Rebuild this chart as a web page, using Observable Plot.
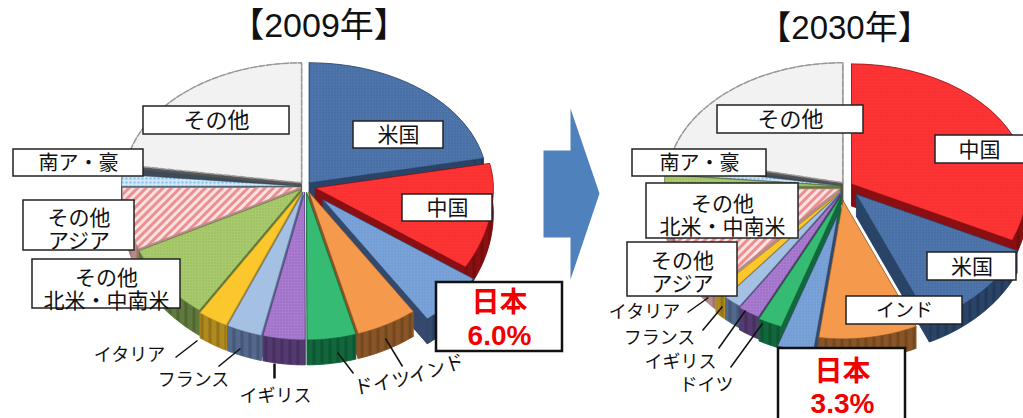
<!DOCTYPE html>
<html><head><meta charset="utf-8">
<script src="https://cdn.jsdelivr.net/npm/d3@7"></script>
<script src="https://cdn.jsdelivr.net/npm/@observablehq/plot@0.6"></script>
<style>html,body{margin:0;padding:0;background:#fff;overflow:hidden}svg{display:block}
g[aria-label="line"]{filter:blur(0.35px)}</style>
</head><body><div id="chart"></div>
<script>
// ---- data (clockwise from 12 o'clock, % share)
const names2009 = ["米国","中国","日本","インド","ドイツ","イギリス","フランス","イタリア","その他北米・中南米","その他アジア","南ア・豪","その他"];
const shares2009 = [21.7,12.3,6.0,5.5,4.4,3.8,3.2,2.7,8.5,6.8,2.4,22.6];
const names2030 = ["中国","米国","インド","日本","ドイツ","イギリス","フランス","イタリア","その他アジア","その他北米・中南米","南ア・豪","その他"];
const shares2030 = [31.7,11.5,9.0,3.3,2.2,2.0,1.6,1.1,12.6,1.5,2.0,21.5];

// ---- styling by category
const categories = names2009;
const sideColor = {"米国":"#2a4468","中国":"#8a0f12","日本":"#34496b","インド":"#8a5526","ドイツ":"#12683c","イギリス":"#543a70","フランス":"#54698e","イタリア":"#b08a1e","その他北米・中南米":"#5f7a3c","その他アジア":"#b98a8a","南ア・豪":"#3c4a5a","その他":"#555"};
const topFill = {"米国":"url(#pUS)","中国":"url(#pCN)","日本":"url(#pJP)","インド":"#f59a4c","ドイツ":"#35bb72","イギリス":"url(#pUK)","フランス":"#a4c0e2","イタリア":"#fcc72c","その他北米・中南米":"url(#pNA)","その他アジア":"url(#pAS)","南ア・豪":"url(#pSA)","その他":"#f2f2f2"};

// ---- pie layouts
const pie2009 = {cx:305, cy:186, rx:178, ryTop:120, ryBot:147, depth:25, inset:3, names:names2009, shares:shares2009, shift:{},
  explode:{"米国":6,"中国":10,"日本":24,"インド":8,"ドイツ":8,"イギリス":8,"フランス":8,"イタリア":8,"その他北米・中南米":6,"その他アジア":5,"南ア・豪":6,"その他":6}};
const pie2030 = {cx:846, cy:186, rx:176, ryTop:120, ryBot:138, depth:22, inset:3, names:names2030, shares:shares2030, shift:{"インド":-6},
  explode:{"中国":6,"米国":14,"インド":18,"日本":38,"ドイツ":14,"イギリス":12,"フランス":10,"イタリア":10,"その他アジア":8,"その他北米・中南米":6,"南ア・豪":6,"その他":6}};

function pieMarks(p){
  const arcs = d3.pie().sort(null).value(d=>d.v)(p.names.map((n,i)=>({n,v:p.shares[i]})));
  const sides = [], tops = [];
  const items = arcs.map(a=>{
    const mid=(a.startAngle+a.endAngle)/2, e=p.explode[a.data.n];
    const ox=Math.sin(mid)*e+(p.shift[a.data.n]||0), oy=-Math.cos(mid)*e*0.8;
    const P=(t,dz=0)=>{const c=Math.cos(t);return {x:p.cx+ox+Math.sin(t)*p.rx, y:p.cy+oy-c*(c>0?p.ryTop:p.ryBot)+dz}};
    const C=(dz=0)=>({x:p.cx+ox,y:p.cy+oy+dz});
    const steps=d3.range(0,25).map(i=>i/24);
    const ts=steps.map(f=>a.startAngle+(a.endAngle-a.startAngle)*f);
    const arcTop=ts.map(t=>P(t)), arcBot=ts.map(t=>P(t,p.depth));
    // 南ア・豪: the wall under その他 shows as a dark band above its top face
    const topEnd=a.data.n==="南ア・豪"?a.endAngle-p.inset*Math.PI/180:a.endAngle;
    const faceArc=steps.map(f=>P(a.startAngle+(topEnd-a.startAngle)*f));
    return {n:a.data.n,mid,
      top:[C(),...faceArc,C()],
      bot:[C(p.depth),...arcBot,C(p.depth)],
      band:[...arcTop,...arcBot.slice().reverse(),arcTop[0]],
      w1:[C(),arcTop[0],arcBot[0],C(p.depth),C()],
      w2:[C(),arcTop[24],arcBot[24],C(p.depth),C()]};
  });
  const back2front=items.slice().sort((a,b)=>Math.cos(b.mid)-Math.cos(a.mid));
  back2front.forEach(s=>{
    const c=sideColor[s.n];
    [s.bot,s.w1,s.w2].forEach(poly=>sides.push(Plot.line(poly,{x:"x",y:"y",fill:c,stroke:c,strokeWidth:0.5})));
    sides.push(Plot.line(s.band,{x:"x",y:"y",fill:`url(#side${categories.indexOf(s.n)})`,stroke:c,strokeWidth:0.5}));
    if(s.n!=="その他") tops.push(Plot.line(s.top,{x:"x",y:"y",fill:topFill[s.n],stroke:c,strokeWidth:0.7,strokeOpacity:0.7}));
    else tops.unshift(Plot.line(s.top,{x:"x",y:"y",fill:topFill[s.n],stroke:"#999",strokeWidth:1.5,strokeDasharray:"6 2"}));
  });
  return [...sides,...tops];
}

// ---- annotation layout (page pixels)
const titles=[{t:"【2009年】",x:318.5,y:26,s:34},{t:"【2030年】",x:844,y:28,s:33}];
const arrowShape=[[543,150],[570,150],[570,108],[599,193],[570,279],[570,237],[543,237],[543,150]].map(([x,y])=>({x,y}));
const boxes=[
 {x1:143,x2:289,y1:106,y2:134,t:"その他",s:22,dy:0},
 {x1:13,x2:143,y1:149,y2:176,t:"南ア・豪",s:20,dy:0},
 {x1:353,x2:443,y1:121,y2:148,t:"米国",s:21,dy:0},
 {x1:402,x2:492,y1:194,y2:221,t:"中国",s:21,dy:0},
 {x1:23,x2:134,y1:200,y2:250,t:"その他\nアジア",s:21,dy:4},
 {x1:32,x2:180,y1:259,y2:308,t:"その他\n北米・中南米",s:21,dy:5},
 {x1:717,x2:863,y1:105,y2:133,t:"その他",s:22,dy:0},
 {x1:632,x2:766,y1:149,y2:176,t:"南ア・豪",s:20,dy:0},
 {x1:646,x2:798,y1:183,y2:238,t:"その他\n北米・中南米",s:21,dy:4},
 {x1:935,x2:1027,y1:135,y2:163,t:"中国",s:21,dy:0,tx:979},
 {x1:927,x2:1016,y1:252,y2:280,t:"米国",s:21,dy:0},
 {x1:846,x2:962,y1:296,y2:324,t:"インド",s:19,dy:0},
 {x1:627,x2:737,y1:242,y2:296,t:"その他\nアジア",s:21,dy:3}
];
const redBoxes=[{x1:436,x2:562,y1:282,y2:351},{x1:778,x2:905,y1:348,y2:424}];
const redTexts=[{t:"日本",x:499,y:303},{t:"6.0%",x:499,y:336},{t:"日本",x:842,y:372},{t:"3.3%",x:842,y:404}];
const plainLabels=[
 {t:"イタリア",x:129,y:355,r:0,s:18},{t:"フランス",x:193,y:380,r:0,s:18},{t:"イギリス",x:275,y:396,r:0,s:18},
 {t:"ドイツ",x:382,y:383,r:-10,s:19},{t:"インド",x:436,y:369,r:-18,s:19},
 {t:"イタリア",x:644,y:312,r:0,s:18},{t:"フランス",x:659,y:338,r:0,s:18},{t:"イギリス",x:680,y:362,r:0,s:18},{t:"ドイツ",x:706,y:385,r:0,s:18}
];
const leaders=[
 {x1:175,y1:357,x2:197,y2:340,w:1.5},{x1:218,y1:366,x2:240,y2:348,w:1.5},{x1:274,y1:363,x2:274,y2:378,w:2.5},
 {x1:337,y1:352,x2:353,y2:373,w:1.5},{x1:385,y1:338,x2:402,y2:366,w:1.5},
 {x1:687,y1:312,x2:708,y2:297,w:1.5},{x1:702,y1:330,x2:722,y2:306,w:1.5},{x1:718,y1:348,x2:745,y2:310,w:1.5},{x1:730,y1:367,x2:762,y2:323,w:1.5}
];

const cjk='"Liberation Sans","Noto Sans CJK JP",sans-serif';

function patterns(){
  const defs=d3.create("svg:defs");
  const dots=(id,base,dot,r=0.7,sz=3)=>{const p=defs.append("pattern").attr("id",id).attr("width",sz).attr("height",sz).attr("patternUnits","userSpaceOnUse");
    p.append("rect").attr("width",sz).attr("height",sz).attr("fill",base);
    p.append("circle").attr("cx",sz/2).attr("cy",sz/2).attr("r",r).attr("fill",dot);};
  dots("pUS","#4f76ad","#3d5f8f");
  dots("pCN","#ff3434","#e82c2c");
  dots("pJP","#7aa3da","#6890c6");
  dots("pUK","#aa7cd2","#8a5eb0");
  dots("pNA","#a9cb6d","#8fb157");
  dots("pSA","#cfe8fa","#6fb0e0",1,4);
  const s=defs.append("pattern").attr("id","pAS").attr("width",6).attr("height",6).attr("patternUnits","userSpaceOnUse").attr("patternTransform","rotate(45)");
  s.append("rect").attr("width",6).attr("height",6).attr("fill","#fbe3e3");
  s.append("rect").attr("width",3).attr("height",6).attr("fill","#ee8f8f");
  categories.forEach((n,i)=>{
    const c=d3.color(sideColor[n]);
    const q=defs.append("pattern").attr("id","side"+i).attr("width",8).attr("height",8).attr("patternUnits","userSpaceOnUse");
    q.append("rect").attr("width",8).attr("height",8).attr("fill",c.formatHex());
    q.append("rect").attr("width",3).attr("height",8).attr("fill",c.darker(0.5).formatHex());
  });
  return defs.node();
}

const chart=Plot.plot({
  width:1023,height:418,margin:0,
  x:{domain:[0,1023],range:[0,1023],axis:null},
  y:{domain:[0,418],range:[0,418],axis:null},
  style:{fontFamily:cjk,background:"#fff"},
  marks:[
    patterns,
    ...pieMarks(pie2009),
    ...pieMarks(pie2030),
    Plot.line(arrowShape,{x:"x",y:"y",fill:"#4f81bd",stroke:"none"}),
    Plot.link(leaders,{x1:"x1",y1:"y1",x2:"x2",y2:"y2",stroke:"#111",strokeWidth:"w"}),
    Plot.rect(boxes,{x1:"x1",x2:"x2",y1:"y1",y2:"y2",fill:"#fff",stroke:"#222",strokeWidth:1.5}),
    Plot.rect(redBoxes,{x1:"x1",x2:"x2",y1:"y1",y2:"y2",fill:"#fff",stroke:"#111",strokeWidth:2.5}),
    Plot.text(titles,{text:"t",x:"x",y:"y",fontSize:"s",fill:"#111"}),
    Plot.text(boxes,{text:"t",x:d=>d.tx??(d.x1+d.x2)/2,y:d=>(d.y1+d.y2)/2+d.dy,fontSize:"s",fill:"#111",lineHeight:1.1}),
    Plot.text(plainLabels,{text:"t",x:"x",y:"y",rotate:"r",fontSize:"s",fill:"#111"}),
    Plot.text(redTexts,{text:"t",x:"x",y:"y",fontSize:28,fontWeight:700,fill:"#f00000"})
  ]
});
document.getElementById("chart").append(chart);
</script></body></html>
